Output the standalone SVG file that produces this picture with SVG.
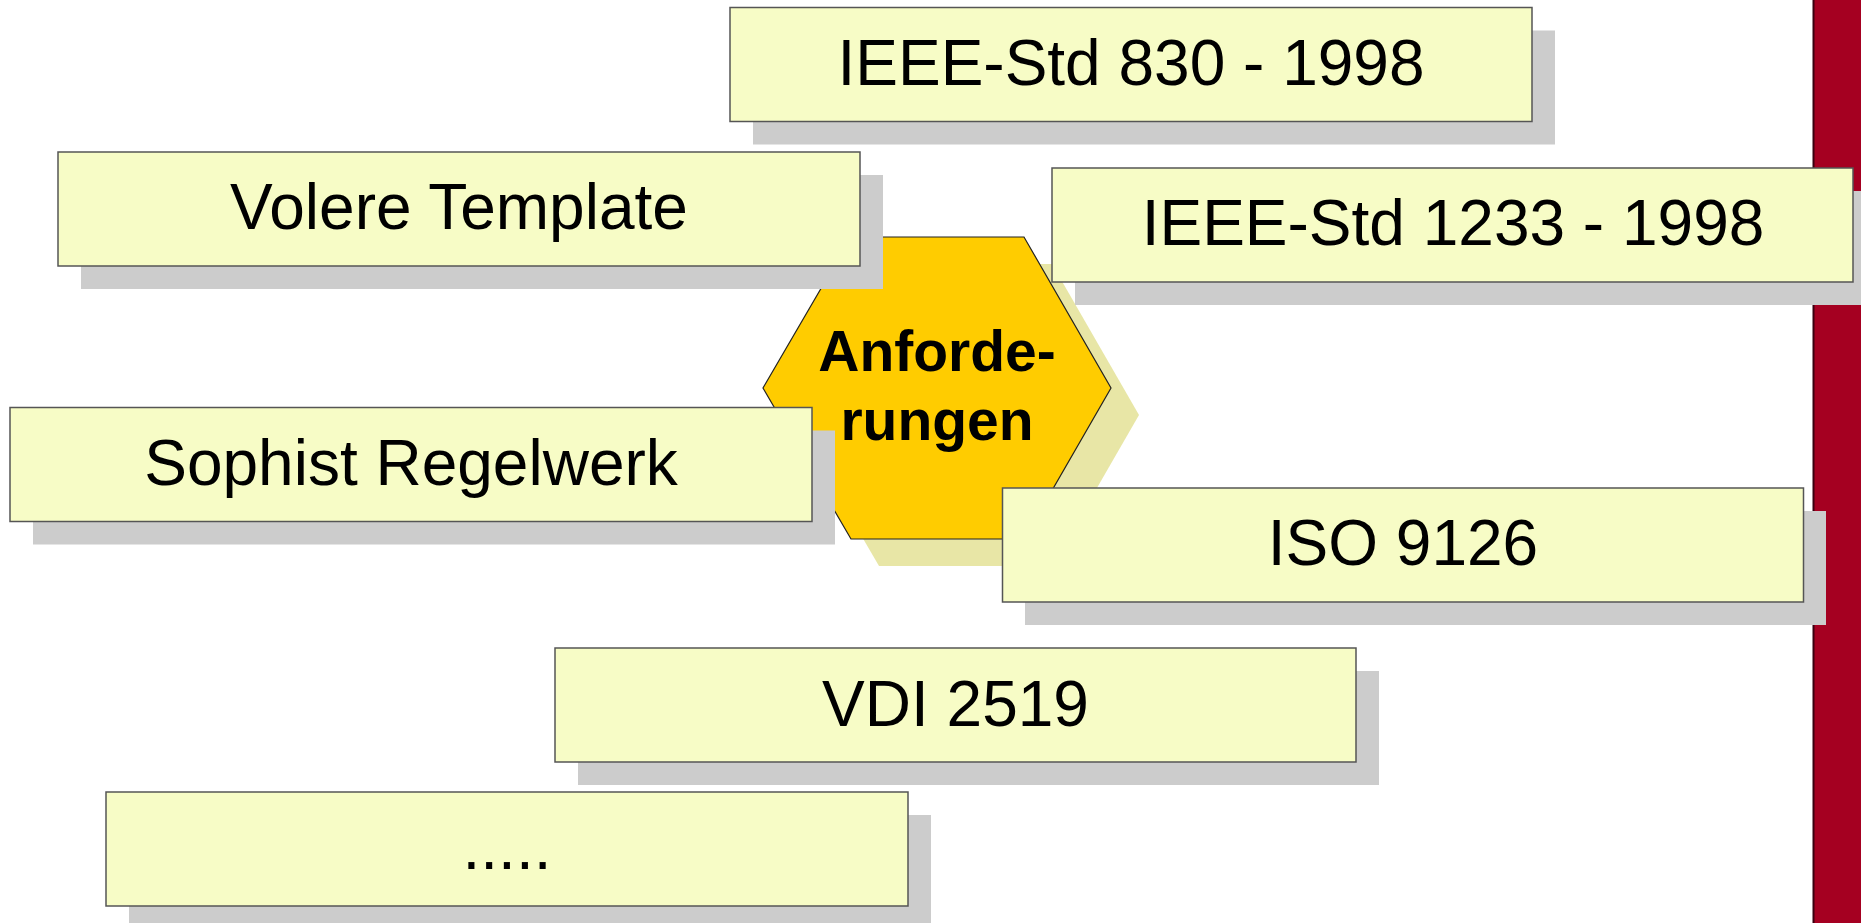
<svg xmlns="http://www.w3.org/2000/svg" width="1861" height="923" viewBox="0 0 1861 923">
<defs>
<style>
.shadow{fill:#CCCCCC;}
.box{fill:#F7FCC6;stroke:#555555;stroke-width:1.5;}
.lbl{font-family:"Liberation Sans",Arial,sans-serif;font-size:64px;fill:#000000;text-anchor:middle;}
.hexlbl{font-family:"Liberation Sans",Arial,sans-serif;font-size:57px;font-weight:bold;fill:#000000;text-anchor:middle;}
</style>
</defs>
<rect x="0" y="0" width="1861" height="923" fill="#FFFFFF"/>
<g id="sidebar">
<rect x="1813" y="0" width="48" height="923" fill="#A50021"/>
<line x1="1813.5" y1="0" x2="1813.5" y2="923" stroke="#3a0010" stroke-width="2"/>
</g>
<g id="connectors"></g>
<g id="anforderungen">
<polygon points="879,264 1052,264 1139,415 1052,566 879,566 791,415" fill="#E8E6A6"/>
<polygon points="851,237 1024,237 1111,388 1024,539 851,539 763,388" fill="#FFCC00" stroke="#222222" stroke-width="1.2"/>
<text class="hexlbl" x="937" y="371">Anforde-</text>
<text class="hexlbl" x="937" y="440">rungen</text>
</g>
<g id="ieee830">
<rect class="shadow" x="753" y="30.5" width="802" height="114"/>
<rect class="box" x="730" y="7.5" width="802" height="114"/>
<text class="lbl" x="1131" y="85">IEEE-Std 830 - 1998</text>
</g>
<g id="volere">
<rect class="shadow" x="81" y="175" width="802" height="114"/>
<rect class="box" x="58" y="152" width="802" height="114"/>
<text class="lbl" x="459" y="229">Volere Template</text>
</g>
<g id="ieee1233">
<rect class="shadow" x="1075" y="191" width="802" height="114"/>
<rect class="box" x="1052" y="168" width="801" height="114"/>
<text class="lbl" x="1453" y="245">IEEE-Std 1233 - 1998</text>
</g>
<g id="sophist">
<rect class="shadow" x="33" y="430.5" width="802" height="114"/>
<rect class="box" x="10" y="407.5" width="802" height="114"/>
<text class="lbl" x="411" y="485">Sophist Regelwerk</text>
</g>
<g id="iso9126">
<rect class="shadow" x="1025" y="511" width="801" height="114"/>
<rect class="box" x="1002.5" y="488" width="801" height="114"/>
<text class="lbl" x="1403" y="565">ISO 9126</text>
</g>
<g id="vdi2519">
<rect class="shadow" x="578" y="671" width="801" height="114"/>
<rect class="box" x="555" y="648" width="801" height="114"/>
<text class="lbl" x="955.5" y="725.5">VDI 2519</text>
</g>
<g id="more">
<rect class="shadow" x="129" y="815" width="802" height="114"/>
<rect class="box" x="106" y="792" width="802" height="114"/>
<text class="lbl" x="507" y="869">.....</text>
</g>
</svg>
